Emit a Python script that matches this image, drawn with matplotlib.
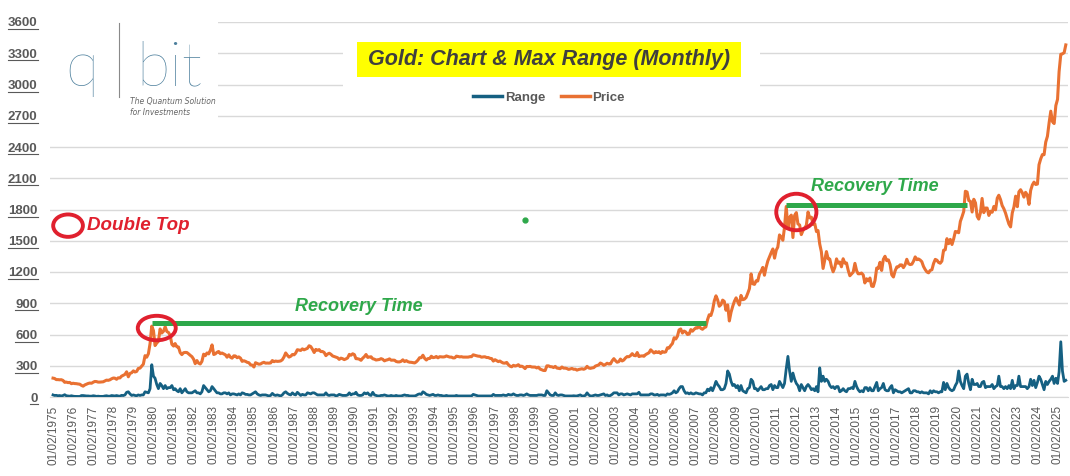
import matplotlib
matplotlib.use('Agg')
import matplotlib.pyplot as plt
import matplotlib.dates as mdates
from matplotlib.patches import Ellipse, Rectangle
from matplotlib.lines import Line2D
import pandas as pd

# Monthly gold close, Feb 1975 .. Jul 2025
price = [
    181, 178, 167, 167, 165, 166, 159, 141, 143, 138, 140,              # 1975 (Feb-Dec)
    128, 132, 129, 128, 125, 123, 112, 104, 116, 123, 130, 134,         # 1976
    132, 142, 149, 148, 143, 143, 145, 146, 154, 162, 160, 165,         # 1977
    175, 182, 181, 170, 184, 183, 200, 208, 217, 242, 194, 226,         # 1978
    233, 251, 240, 245, 274, 277, 296, 315, 397, 382, 415, 512,         # 1979
    680, 637, 494, 518, 535, 653, 614, 631, 675, 629, 619, 590,         # 1980
    506, 489, 513, 482, 480, 426, 407, 425, 428, 427, 414, 400,         # 1981
    387, 362, 320, 350, 325, 317, 342, 411, 397, 423, 414, 448,         # 1982
    500, 408, 414, 429, 437, 416, 422, 414, 405, 382, 405, 382,         # 1983
    373, 395, 394, 377, 385, 373, 342, 348, 342, 333, 329, 309,         # 1984
    306, 288, 329, 322, 315, 317, 327, 333, 325, 326, 325, 327,         # 1985
    350, 339, 345, 342, 343, 346, 357, 384, 423, 401, 383, 391,         # 1986
    408, 405, 421, 454, 451, 447, 462, 453, 460, 467, 492, 484,         # 1987
    458, 427, 457, 449, 455, 436, 437, 427, 397, 412, 420, 410,         # 1988
    394, 388, 383, 377, 361, 373, 368, 359, 366, 375, 409, 401,         # 1989
    415, 407, 368, 367, 363, 352, 372, 387, 408, 380, 384, 386,         # 1990
    367, 363, 355, 357, 360, 368, 362, 347, 354, 358, 366, 353,         # 1991
    354, 353, 341, 337, 337, 343, 357, 340, 349, 339, 334, 333,         # 1992
    330, 327, 337, 354, 377, 378, 401, 371, 355, 369, 370, 391,         # 1993
    378, 381, 389, 376, 387, 386, 384, 386, 394, 389, 383, 383,         # 1994
    375, 376, 392, 389, 385, 387, 383, 383, 384, 383, 387, 387,         # 1995
    405, 400, 396, 392, 391, 382, 385, 386, 379, 379, 371, 369,         # 1996
    345, 358, 349, 340, 345, 334, 326, 325, 332, 311, 296, 290,         # 1997
    304, 297, 301, 310, 293, 296, 288, 273, 293, 292, 294, 288,         # 1998
    287, 287, 279, 286, 268, 261, 255, 254, 299, 299, 291, 290,         # 1999
    283, 294, 278, 275, 272, 288, 277, 277, 273, 265, 270, 274,         # 2000
    266, 267, 258, 264, 267, 271, 266, 273, 294, 279, 275, 279,         # 2001
    282, 297, 302, 308, 326, 318, 304, 312, 324, 317, 318, 347,         # 2002
    368, 348, 334, 339, 364, 346, 355, 375, 388, 386, 398, 416,         # 2003
    399, 396, 427, 388, 393, 395, 391, 407, 416, 425, 453, 438,         # 2004
    422, 436, 427, 435, 418, 437, 429, 433, 473, 470, 495, 513,         # 2005
    569, 557, 582, 644, 653, 614, 633, 624, 600, 604, 647, 632,         # 2006
    650, 665, 662, 679, 659, 650, 665, 673, 743, 789, 783, 834,         # 2007
    923, 971, 934, 871, 886, 930, 918, 833, 884, 730, 814, 870,         # 2008
    919, 952, 916, 883, 975, 934, 939, 955, 996, 1040, 1182, 1087,      # 2009
    1081, 1116, 1113, 1180, 1207, 1244, 1169, 1246, 1307, 1346, 1386, 1421,  # 2010
    1333, 1410, 1439, 1556, 1536, 1505, 1628, 1829, 1620, 1722, 1746, 1531,  # 2011
    1744, 1770, 1662, 1651, 1559, 1598, 1622, 1648, 1776, 1720, 1726, 1657,  # 2012
    1664, 1588, 1598, 1469, 1394, 1234, 1314, 1396, 1327, 1324, 1250, 1202,  # 2013
    1244, 1326, 1284, 1296, 1250, 1327, 1285, 1287, 1216, 1164, 1182, 1199,  # 2014
    1283, 1212, 1183, 1183, 1190, 1172, 1095, 1135, 1115, 1142, 1064, 1061,  # 2015
    1118, 1238, 1233, 1293, 1215, 1322, 1351, 1309, 1316, 1272, 1173, 1152,  # 2016
    1211, 1249, 1249, 1268, 1268, 1242, 1269, 1322, 1280, 1271, 1275, 1303,  # 2017
    1345, 1318, 1325, 1315, 1299, 1253, 1224, 1201, 1192, 1215, 1222, 1282,  # 2018
    1321, 1313, 1292, 1284, 1305, 1409, 1413, 1520, 1472, 1513, 1464, 1517,  # 2019
    1589, 1585, 1577, 1686, 1730, 1781, 1975, 1968, 1886, 1879, 1776, 1898,  # 2020
    1863, 1734, 1708, 1769, 1906, 1770, 1814, 1814, 1743, 1783, 1774, 1829,  # 2021
    1797, 1909, 1937, 1896, 1838, 1807, 1766, 1711, 1660, 1633, 1768, 1824,  # 2022
    1928, 1827, 1969, 1990, 1962, 1919, 1965, 1940, 1849, 1983, 2036, 2063,  # 2023
    2040, 2044, 2230, 2286, 2327, 2326, 2447, 2503, 2634, 2744, 2643, 2625,  # 2024
    2798, 2858, 3124, 3290, 3295, 3305, 3380,                                # 2025 (Jan-Jul)
]

# Monthly max range (high - low)
max_range = [
    20, 15, 16, 12, 14, 10, 14, 22, 12, 10, 8,                  # 1975
    12, 8, 6, 6, 6, 5, 14, 14, 12, 10, 10, 8,                   # 1976
    8, 12, 10, 6, 8, 6, 6, 6, 10, 12, 8, 8,                     # 1977
    14, 12, 10, 14, 10, 8, 16, 14, 20, 45, 50, 30,              # 1978
    15, 20, 15, 12, 20, 15, 20, 20, 50, 45, 40, 80,             # 1979
    310, 200, 180, 120, 80, 130, 110, 80, 110, 80, 90, 90,      # 1980
    110, 70, 80, 60, 50, 80, 40, 60, 80, 50, 40, 40,            # 1981
    40, 50, 60, 40, 40, 30, 50, 110, 90, 70, 50, 60,            # 1982
    100, 80, 60, 40, 40, 30, 30, 40, 40, 30, 40, 20,            # 1983
    30, 30, 25, 20, 30, 20, 40, 35, 25, 25, 20, 20,             # 1984
    30, 40, 50, 30, 20, 15, 20, 20, 20, 15, 10, 15,             # 1985
    35, 20, 15, 20, 15, 10, 20, 40, 50, 35, 25, 20,             # 1986
    40, 25, 20, 45, 30, 15, 25, 20, 20, 40, 35, 30,             # 1987
    40, 40, 30, 20, 20, 20, 20, 20, 40, 20, 15, 20,             # 1988
    20, 20, 10, 15, 25, 20, 15, 15, 15, 20, 40, 20,             # 1989
    30, 30, 45, 20, 15, 15, 20, 40, 30, 40, 20, 15,             # 1990
    45, 20, 15, 10, 10, 15, 15, 20, 15, 10, 10, 15,             # 1991
    10, 10, 15, 10, 10, 10, 15, 20, 15, 15, 10, 10,             # 1992
    10, 10, 15, 25, 30, 25, 50, 40, 25, 20, 15, 20,             # 1993
    25, 15, 15, 20, 15, 15, 10, 10, 15, 10, 10, 10,             # 1994
    10, 10, 15, 10, 10, 10, 10, 10, 10, 10, 10, 10,             # 1995
    25, 20, 15, 10, 10, 10, 10, 10, 10, 10, 10, 10,             # 1996
    25, 15, 15, 15, 15, 15, 20, 15, 15, 25, 20, 20,             # 1997
    30, 20, 15, 15, 20, 20, 15, 20, 30, 20, 15, 15,             # 1998
    15, 15, 15, 20, 20, 20, 15, 15, 60, 40, 20, 15,             # 1999
    15, 40, 20, 15, 20, 20, 15, 10, 10, 10, 10, 10,             # 2000
    12, 10, 10, 15, 20, 10, 10, 15, 40, 20, 10, 10,             # 2001
    15, 20, 15, 15, 20, 25, 30, 15, 20, 10, 15, 25,             # 2002
    40, 40, 40, 20, 30, 30, 20, 25, 30, 25, 20, 30,             # 2003
    30, 30, 30, 45, 20, 20, 20, 20, 20, 20, 30, 30,             # 2004
    20, 20, 25, 15, 20, 20, 20, 15, 30, 25, 30, 40,             # 2005
    60, 40, 50, 80, 100, 100, 60, 35, 40, 30, 40, 30,           # 2006
    30, 40, 35, 30, 30, 20, 40, 40, 75, 60, 90, 60,             # 2007
    100, 150, 120, 100, 70, 70, 80, 130, 250, 220, 150, 110,    # 2008
    120, 90, 110, 60, 110, 60, 50, 40, 80, 90, 170, 150,        # 2009
    80, 80, 60, 80, 100, 70, 70, 80, 80, 110, 120, 70,          # 2010
    110, 90, 90, 150, 120, 90, 130, 270, 390, 250, 150, 230,    # 2011
    170, 130, 110, 60, 120, 90, 60, 100, 120, 100, 70, 80,      # 2012
    60, 100, 50, 280, 150, 200, 150, 170, 150, 110, 90, 100,    # 2013
    80, 100, 100, 50, 60, 80, 60, 50, 80, 80, 90, 80,           # 2014
    150, 100, 70, 50, 60, 50, 90, 90, 60, 90, 60, 60,           # 2015
    100, 140, 60, 80, 90, 130, 70, 60, 60, 90, 110, 40,         # 2016
    70, 60, 50, 50, 40, 50, 60, 70, 80, 40, 40, 60,             # 2017
    60, 50, 50, 40, 50, 40, 40, 40, 30, 60, 40, 60,             # 2018
    50, 50, 40, 50, 50, 140, 70, 130, 90, 70, 60, 70,           # 2019
    110, 140, 250, 150, 110, 80, 200, 220, 130, 70, 170, 120,   # 2020
    120, 130, 100, 100, 140, 150, 90, 100, 100, 100, 120, 80,   # 2021
    100, 110, 200, 100, 100, 80, 100, 80, 110, 80, 160, 80,     # 2022
    110, 110, 200, 100, 100, 100, 100, 80, 100, 170, 110, 160,  # 2023
    90, 140, 200, 170, 120, 70, 150, 120, 150, 170, 200, 130,   # 2024
    180, 130, 240, 530, 250, 150, 160,                          # 2025
]

dates = pd.date_range('1975-02-01', periods=len(price), freq='MS')
tick_years = list(range(1975, 2026))
tick_dates = pd.to_datetime([f'{y}-02-01' for y in tick_years])
tick_labels = [f'01/02/{y}' for y in tick_years]
y_ticks = list(range(0, 3601, 300))

# annotation spots
recovery_1 = ('1980-01-01', '2007-08-01', 710)
recovery_2 = ('2011-08-01', '2020-08-01', 1840)

GREEN = '#2EA84A'
RED = '#E0202E'
GREY = '#595959'
NARROW = ['Liberation Sans Narrow', 'Liberation Sans', 'DejaVu Sans']

fig = plt.figure(figsize=(10.7, 4.76), dpi=100)
W, H = 1070, 476
ax = fig.add_axes([50 / W, 1 - 397 / H, (1068 - 50) / W, (397 - 22) / H])

ax.plot(dates, max_range, color='#156082', lw=2.0, label='Range', zorder=3)
ax.plot(dates, price, color='#E97132', lw=2.2, label='Price', zorder=3)

ax.set_ylim(0, 3600)
ax.set_yticks(y_ticks)
ax.set_yticklabels([str(v) for v in y_ticks], fontsize=9.5, fontweight='bold',
                   color=GREY, family='Liberation Sans')
ax.set_xlim(pd.Timestamp('1974-12-08'), pd.Timestamp('2025-08-10'))
ax.set_xticks(tick_dates)
ax.set_xticklabels(tick_labels, rotation=90, fontsize=8.5, color=GREY,
                   family='Liberation Sans')
ax.tick_params(axis='both', length=0)
ax.tick_params(axis='y', pad=9)
ax.tick_params(axis='x', pad=6)
ax.grid(True, axis='y', color='#d9d9d9', lw=1)
ax.set_axisbelow(True)
for s in ['top', 'right', 'left']:
    ax.spines[s].set_visible(False)
ax.spines['bottom'].set_color('#d9d9d9')

# recovery lines
for d1, d2, lvl in [recovery_1, recovery_2]:
    ax.plot([pd.Timestamp(d1), pd.Timestamp(d2)], [lvl, lvl], color=GREEN,
            lw=3.6, solid_capstyle='butt', zorder=4)

ax.text(pd.Timestamp('1990-05-01'), 870, 'Recovery Time', color=GREEN, fontsize=13,
        fontweight='bold', fontstyle='italic', family=NARROW, ha='center', va='center')
ax.text(pd.Timestamp('2016-01-01'), 2020, 'Recovery Time', color=GREEN, fontsize=13,
        fontweight='bold', fontstyle='italic', family=NARROW, ha='center', va='center')

# red circles
def ring(day, val, w_days, h_val):
    ax.add_patch(Ellipse((mdates.date2num(pd.Timestamp(day)), val), w_days, h_val,
                         fill=False, edgecolor=RED, lw=2.8, zorder=5, clip_on=False))

ring('1980-04-01', 662, 690, 235)
ring('2012-02-01', 1776, 730, 350)
ring('1975-11-01', 1645, 540, 215)
ax.text(pd.Timestamp('1976-10-15'), 1645, 'Double Top', color=RED, fontsize=13.5,
        fontweight='bold', fontstyle='italic', family=NARROW, ha='left', va='center')

# stray green dot
ax.plot([pd.Timestamp('1998-08-01')], [1700], 'o', color=GREEN, ms=3.5, zorder=4)

# white panels for logo and title
fig.patches.append(Rectangle((48 / W, 1 - 118 / H), 170 / W, 106 / H, transform=fig.transFigure,
                             facecolor='white', edgecolor='none', zorder=1))
fig.patches.append(Rectangle((343 / W, 1 - 113 / H), 417 / W, 82 / H, transform=fig.transFigure,
                             facecolor='white', edgecolor='none', zorder=1))

# title
fig.patches.append(Rectangle((357 / W, 1 - 77 / H), 384 / W, 35 / H, transform=fig.transFigure,
                             facecolor='#FFFF00', edgecolor='none', zorder=2))
fig.text(549 / W, 1 - 60 / H, 'Gold: Chart & Max Range (Monthly)', fontsize=15.5,
         fontweight='bold', fontstyle='italic', color='#3f3f3f', family=NARROW,
         ha='center', va='center', zorder=3)

# legend
handles = [Line2D([], [], color='#156082', lw=2.5), Line2D([], [], color='#E97132', lw=2.5)]
leg = fig.legend(handles, ['Range', 'Price'], loc='center', bbox_to_anchor=(549 / W, 1 - 98 / H),
                 ncol=2, frameon=False, handlelength=2.2, handletextpad=0.2, columnspacing=1.2,
                 prop={'family': 'Liberation Sans', 'weight': 'bold', 'size': 9.5})
for t in leg.get_texts():
    t.set_color(GREY)

# logo
LOGO = '#4c7f9c'
fig.text(82 / W, 1 - 86 / H, 'q', fontsize=44, color=LOGO, family='Lato', fontweight='light',
         ha='center', va='baseline', zorder=3)
fig.add_artist(Line2D([119 / W, 119 / W], [1 - 97 / H, 1 - 23 / H], color='#8a8a8a', lw=0.8, zorder=3))
fig.text(169 / W, 1 - 86 / H, 'bit', fontsize=44, color=LOGO, family='Lato', fontweight='light',
         ha='center', va='baseline', zorder=3)
fig.text(130 / W, 1 - 107 / H, 'The Quantum Solution\nfor Investments', fontsize=5.5,
         color='#666666', fontstyle='italic', ha='left', va='center', linespacing=1.2, zorder=3)

# underline the value labels like the source
fig.canvas.draw()
for lab in ax.get_yticklabels():
    bb = lab.get_window_extent()
    yy = (bb.y0 + 0.5) / H
    fig.add_artist(Line2D([bb.x0 / W, bb.x1 / W], [yy, yy], color=GREY, lw=0.8))

fig.savefig('out.png', dpi=100)
